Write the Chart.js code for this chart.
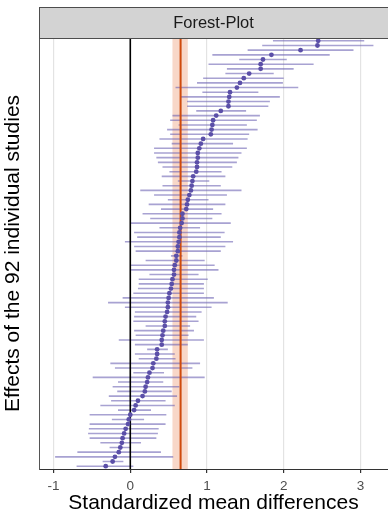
<!DOCTYPE html>
<html>
<head>
<meta charset="utf-8">
<script src="https://cdn.jsdelivr.net/npm/chart.js@4.4.1/dist/chart.umd.min.js"></script>
<style>
  html, body { margin: 0; padding: 0; background: #fff; }
  #wrap { width: 388px; height: 517px; }
</style>
</head>
<body>
<div id="wrap"><canvas id="chart"></canvas></div>
<script>
// Study effects, top of the plot first
const estimates = [
  2.45, 2.44, 2.22, 1.84, 1.73, 1.70, 1.70, 1.55, 1.48, 1.43,
  1.39, 1.30, 1.29, 1.28, 1.28, 1.18, 1.12, 1.08, 1.07, 1.06,
  1.05, 0.95, 0.92, 0.90, 0.88, 0.88, 0.87, 0.87, 0.86, 0.82,
  0.81, 0.80, 0.79, 0.77, 0.75, 0.74, 0.73, 0.68, 0.68, 0.67,
  0.65, 0.64, 0.64, 0.63, 0.62, 0.62, 0.60, 0.60, 0.58, 0.57,
  0.57, 0.55, 0.54, 0.53, 0.51, 0.50, 0.49, 0.49, 0.48, 0.46,
  0.45, 0.45, 0.43, 0.42, 0.41, 0.41, 0.35, 0.35, 0.34, 0.30,
  0.29, 0.25, 0.23, 0.22, 0.20, 0.19, 0.16, 0.10, 0.07, 0.05,
  0.00, -0.02, -0.03, -0.06, -0.08, -0.10, -0.11, -0.13, -0.15, -0.20,
  -0.23, -0.32
];
const lowerCI = [
  1.86, 1.72, 1.53, 1.07, 1.42, 1.02, 1.26, 1.24, 0.95, 0.87,
  0.59, 0.94, 0.66, 0.74, 0.74, 0.86, 0.55, 0.52, 0.63, 0.48,
  0.52, 0.38, 0.54, 0.31, 0.31, 0.34, 0.36, 0.42, 0.51, 0.41,
  0.62, 0.42, 0.13, 0.31, 0.49, 0.24, 0.40, 0.16, 0.26, 0.00,
  0.38, 0.05, 0.09, -0.07, 0.05, 0.07, 0.53, 0.20, 0.00, 0.01,
  0.25, 0.11, 0.11, 0.10, 0.04, -0.10, -0.29, -0.07, 0.06, 0.05,
  0.04, 0.20, 0.05, 0.07, -0.15, 0.06, 0.22, 0.06, 0.11, -0.26,
  -0.20, 0.04, -0.49, -0.16, -0.23, -0.17, -0.28, -0.25, -0.39, -0.16,
  -0.53, -0.24, -0.53, -0.54, -0.55, -0.53, -0.39, -0.27, -0.69, -0.98,
  -0.36, -0.70
];
const upperCI = [
  3.05, 3.17, 2.91, 2.60, 2.04, 2.39, 2.13, 1.87, 2.00, 1.99,
  2.19, 1.67, 1.95, 1.82, 1.80, 1.51, 1.69, 1.65, 1.52, 1.66,
  1.55, 1.53, 1.34, 1.52, 1.45, 1.41, 1.39, 1.33, 1.19, 1.24,
  1.03, 1.18, 1.45, 1.26, 1.02, 1.24, 1.08, 1.19, 1.07, 1.31,
  0.91, 1.23, 1.18, 1.34, 1.24, 1.18, 0.68, 0.97, 1.10, 1.15,
  0.89, 1.01, 0.96, 0.96, 0.96, 1.09, 1.27, 1.06, 0.93, 0.86,
  0.89, 0.78, 0.83, 0.76, 0.96, 0.75, 0.49, 0.58, 0.59, 0.91,
  0.81, 0.44, 0.97, 0.43, 0.64, 0.54, 0.61, 0.46, 0.58, 0.27,
  0.47, 0.18, 0.46, 0.37, 0.36, 0.34, 0.14, 0.01, 0.40, 0.56,
  -0.09, 0.04
];
const xTicks = [-1, 0, 1, 2, 3];
const pooledEffect = 0.656;
const pooledLower = 0.55;
const pooledUpper = 0.75;
const panelTitle = "Forest-Plot";

const FONT = "'Liberation Sans', Arial, sans-serif";
const nStudies = estimates.length;
const yMin = 0.4, yMax = nStudies + 0.6;

// first study sits on top
const rowOf = i => nStudies - i;

// error bars as one broken line: lo, hi, gap
const barPoints = [];
estimates.forEach((_, i) => {
  barPoints.push({ x: lowerCI[i], y: rowOf(i) });
  barPoints.push({ x: upperCI[i], y: rowOf(i) });
  barPoints.push({ x: null, y: null });
});
const dotPoints = estimates.map((v, i) => ({ x: v, y: rowOf(i) }));

// ---------------------------------------------------------
// Pooled CI band behind everything
// ---------------------------------------------------------
const bandPlugin = {
  id: "band",
  beforeDatasetsDraw(chart) {
    const { ctx, chartArea, scales } = chart;
    const x0 = scales.x.getPixelForValue(pooledLower);
    const x1 = scales.x.getPixelForValue(pooledUpper);
    ctx.save();
    ctx.fillStyle = "rgba(236, 150, 110, 0.38)";
    ctx.fillRect(x0, chartArea.top, x1 - x0, chartArea.bottom - chartArea.top);
    ctx.restore();
  }
};

// ---------------------------------------------------------
// Facet strip on top of the panel
// ---------------------------------------------------------
const stripPlugin = {
  id: "strip",
  afterDraw(chart) {
    const { ctx, chartArea } = chart;
    const top = 7, h = chartArea.top - top;
    const left = chartArea.left, w = chart.width - left + 2;
    ctx.save();
    ctx.fillStyle = "#d3d3d3";
    ctx.fillRect(left, top, w, h);
    ctx.strokeStyle = "#4d4d4d";
    ctx.lineWidth = 1;
    ctx.strokeRect(left + 0.5, top + 0.5, w, h);
    ctx.fillStyle = "#1a1a1a";
    ctx.font = "16.5px " + FONT;
    ctx.textAlign = "center";
    ctx.textBaseline = "middle";
    ctx.fillText(panelTitle, left + (chart.width - left) / 2, top + h / 2 + 1);
    ctx.restore();
  }
};

const chart = new Chart(document.getElementById("chart"), {
  type: "scatter",
  data: {
    datasets: [
      {
        data: barPoints,
        showLine: true,
        spanGaps: false,
        pointRadius: 0,
        borderColor: "rgba(110, 100, 180, 0.6)",
        borderWidth: 1.6,
        order: 3
      },
      {
        data: [{ x: 0, y: yMin }, { x: 0, y: yMax }],
        showLine: true,
        pointRadius: 0,
        borderColor: "#000",
        borderWidth: 1.6,
        order: 2
      },
      {
        data: [{ x: pooledEffect, y: yMin }, { x: pooledEffect, y: yMax }],
        showLine: true,
        pointRadius: 0,
        borderColor: "#cf4a0c",
        borderWidth: 2,
        order: 2
      },
      {
        data: dotPoints,
        pointRadius: 2.4,
        pointBackgroundColor: "#5b4fa8",
        pointBorderWidth: 0,
        order: 1
      }
    ]
  },
  options: {
    responsive: true,
    maintainAspectRatio: false,
    animation: false,
    layout: { autoPadding: false, padding: { top: 38, left: 0, right: 0, bottom: 0 } },
    plugins: { legend: { display: false }, tooltip: { enabled: false } },
    scales: {
      x: {
        type: "linear",
        min: -1.19,
        max: 3.36,
        afterBuildTicks: s => { s.ticks = xTicks.map(v => ({ value: v })); },
        afterFit: s => { s.height = 48; s.paddingLeft = 0; s.paddingRight = 0; },
        grid: { color: "#e3e3e3", lineWidth: 1.2, tickColor: "#333", tickLength: 4 },
        border: { color: "#333", width: 1 },
        ticks: { color: "#4d4d4d", padding: 5, font: { family: FONT, size: 13.5 } },
        title: {
          display: true,
          text: "Standardized mean differences",
          color: "#000",
          font: { family: FONT, size: 21 },
          padding: { top: 0, bottom: 1 }
        }
      },
      y: {
        type: "linear",
        min: yMin,
        max: yMax,
        afterFit: s => { s.width = 39; },
        grid: { display: false },
        border: { color: "#555", width: 1 },
        ticks: { display: false },
        title: {
          display: true,
          text: "Effects of the 92 individual studies",
          color: "#000",
          font: { family: FONT, size: 21 },
          padding: { top: 1, bottom: 0 }
        }
      }
    }
  },
  plugins: [bandPlugin, stripPlugin]
});

// panel runs to the right edge of the canvas, like the original
if (chart.chartArea.right < chart.width) {
  chart.options.layout.padding.right = chart.chartArea.right - chart.width;
  chart.update();
}
</script>
</body>
</html>
